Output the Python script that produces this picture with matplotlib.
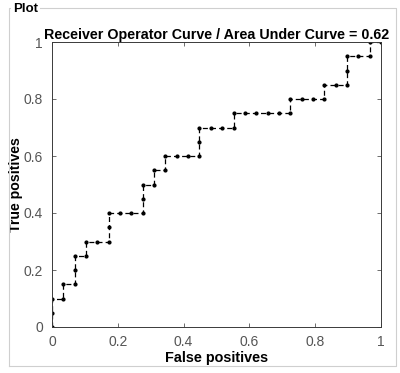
import numpy as np
import matplotlib
matplotlib.use("Agg")
import matplotlib.pyplot as plt
from matplotlib.patches import Rectangle
from matplotlib.lines import Line2D

# ROC points (29 negatives, 20 positives)
fp_count = [0, 0, 0, 1, 1, 2, 2, 2, 3, 3, 4, 5, 5, 5, 6, 7, 8, 8, 8, 9, 9, 10, 10,
            11, 12, 13, 13, 13, 14, 15, 16, 16, 17, 18, 19, 20, 21, 21, 22, 23, 24,
            24, 25, 26, 26, 26, 27, 28, 28, 29]
tp_count = [0, 1, 2, 2, 3, 3, 4, 5, 5, 6, 6, 6, 7, 8, 8, 8, 8, 9, 10, 10, 11, 11, 12,
            12, 12, 12, 13, 14, 14, 14, 14, 15, 15, 15, 15, 15, 15, 16, 16, 16, 16,
            17, 17, 17, 18, 19, 19, 19, 20, 20]
n_neg = 29
n_pos = 20
auc_value = 0.62

x_ticks = [0, 0.2, 0.4, 0.6, 0.8, 1]
tick_labels = ["0", "0.2", "0.4", "0.6", "0.8", "1"]

fpr = np.array(fp_count) / n_neg
tpr = np.array(tp_count) / n_pos

plt.rcParams['font.family'] = ['Liberation Sans', 'DejaVu Sans']

W, H = 400, 373
fig = plt.figure(figsize=(W / 100, H / 100), dpi=100)
ax = fig.add_axes([52 / W, 1 - 327 / H, (381 - 52) / W, (327 - 42) / H])

ax.plot(fpr, tpr, color='black', linestyle=(0, (4, 2.5)), linewidth=0.9,
        marker='.', markersize=4)

ax.set_xlim(0, 1)
ax.set_ylim(0, 1)
ax.set_xticks(x_ticks)
ax.set_xticklabels(tick_labels)
ax.set_yticks(x_ticks)
ax.set_yticklabels(tick_labels)
ax.tick_params(direction='in', length=3, width=0.6, colors='#555555',
               labelsize=10, top=True, right=True, pad=5.5)
ax.tick_params(axis='y', pad=6.5)
for s in ax.spines.values():
    s.set_color('#3a3a3a')
    s.set_linewidth(0.7)

ax.set_title(f"Receiver Operator Curve / Area Under Curve = {auc_value:.2f}",
             fontsize=10.3, fontweight='bold', pad=2)
ax.set_xlabel("False positives", fontsize=10.4, fontweight='bold', labelpad=2)
ax.set_ylabel("True positives", fontsize=10.2, fontweight='bold')
ax.yaxis.set_label_coords(-0.088, 0.5)

# panel box with "Plot" caption, xlabel gets clipped by the panel bottom
px0, py0, px1, py1 = 9, 8, 396, 366
fig.patches.append(Rectangle((0, 0), 1, 1 - py1 / H, transform=fig.transFigure,
                             facecolor='white', edgecolor='none', zorder=5))
border = '#cfcfcf'
fig.lines.append(Line2D([px0 / W, px0 / W, px1 / W, px1 / W, px0 / W],
                        [1 - py1 / H, 1 - py0 / H, 1 - py0 / H, 1 - py1 / H, 1 - py1 / H],
                        transform=fig.transFigure, color=border, linewidth=0.8, zorder=6))
fig.text(13 / W, 1 - 9 / H, "Plot", fontsize=9.5, fontweight='bold',
         va='center', ha='left', zorder=7,
         bbox=dict(facecolor='white', edgecolor='none', pad=1.5))

fig.savefig("out.png", dpi=100)
